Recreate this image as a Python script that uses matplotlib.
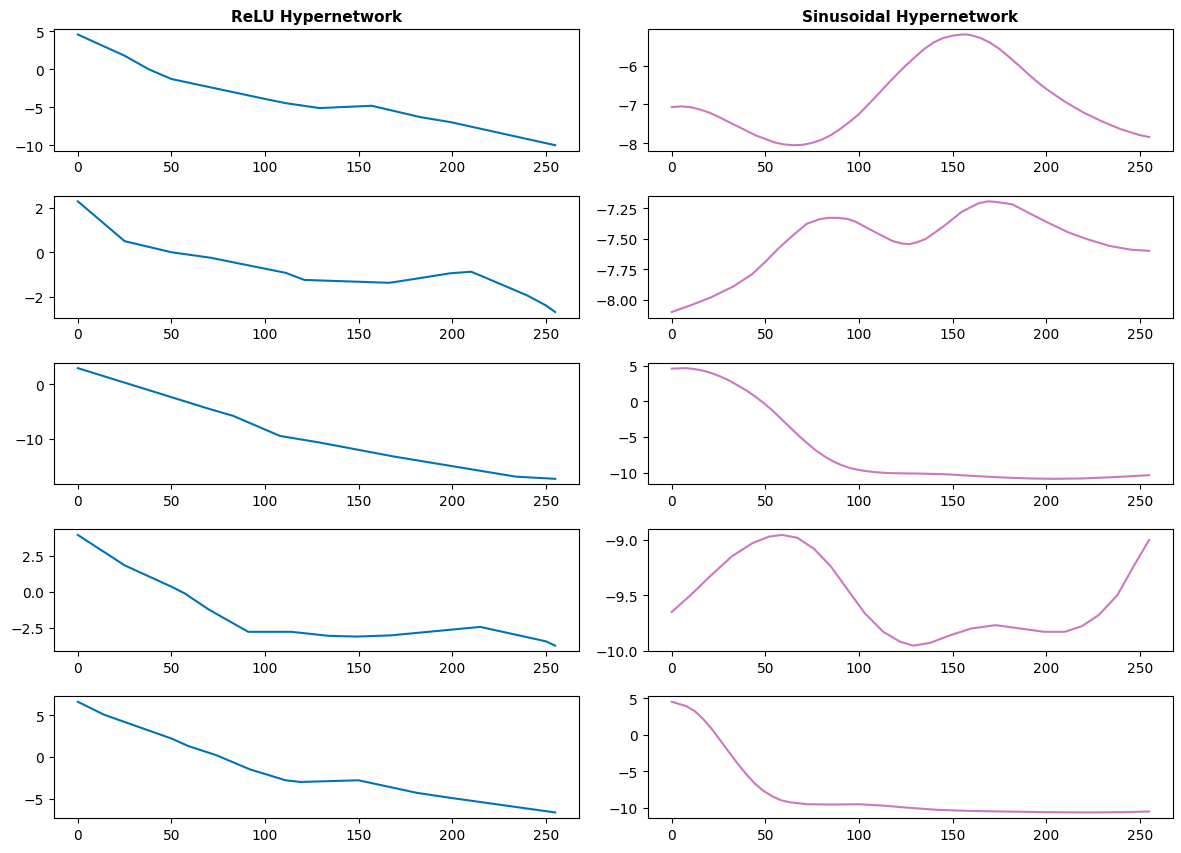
import matplotlib
matplotlib.use("Agg")
import matplotlib.pyplot as plt

# ---- ReLU hypernetwork (piecewise linear breakpoints) ----
relu1_x = [0, 25, 38, 50, 100, 111, 129, 157, 183, 199, 255]
relu1_y = [4.6, 1.8, 0.0, -1.27, -3.9, -4.45, -5.1, -4.8, -6.3, -6.95, -10.0]

relu2_x = [0, 25, 50, 71, 111, 121, 166, 169, 199, 210, 215, 240, 250, 255]
relu2_y = [2.3, 0.5, 0.0, -0.25, -0.93, -1.25, -1.38, -1.35, -0.95, -0.88, -1.05, -1.95, -2.4, -2.7]

relu3_x = [0, 71, 83, 108, 129, 169, 234, 255]
relu3_y = [3.0, -4.6, -5.8, -9.5, -10.7, -13.3, -17.0, -17.4]

relu4_x = [0, 25, 50, 57, 70, 91, 114, 134, 149, 167, 215, 250, 255]
relu4_y = [3.95, 1.84, 0.36, -0.1, -1.23, -2.77, -2.77, -3.05, -3.1, -3.02, -2.43, -3.43, -3.73]

relu5_x = [0, 14, 50, 59, 74, 92, 111, 119, 150, 181, 199, 255]
relu5_y = [6.6, 5.05, 2.2, 1.3, 0.2, -1.5, -2.8, -3.0, -2.8, -4.3, -4.9, -6.65]

# ---- Sinusoidal hypernetwork ----
sin1_x = [0, 5, 10, 15, 20, 25, 30, 35, 40, 45, 50, 55, 60, 65, 70, 75, 80, 85, 90,
          95, 100, 105, 110, 115, 120, 125, 130, 135, 140, 145, 150, 155, 158, 160,
          165, 170, 175, 180, 185, 190, 195, 200, 210, 220, 230, 240, 250, 255]
sin1_y = [-7.07, -7.05, -7.07, -7.13, -7.21, -7.32, -7.44, -7.56, -7.68, -7.80, -7.89,
          -7.98, -8.03, -8.05, -8.04, -7.99, -7.91, -7.79, -7.63, -7.45, -7.25, -7.00,
          -6.75, -6.49, -6.24, -6.00, -5.78, -5.57, -5.40, -5.29, -5.23, -5.20, -5.20,
          -5.22, -5.29, -5.41, -5.57, -5.77, -5.98, -6.20, -6.41, -6.60, -6.93, -7.21,
          -7.44, -7.64, -7.79, -7.84]

sin2_x = [0, 11, 21, 33, 43, 50, 57, 65, 72, 79, 84, 89, 94, 98, 109, 118, 123, 127,
          131, 136, 146, 155, 164, 169, 173, 178, 182, 192, 201, 212, 223, 234, 245, 255]
sin2_y = [-8.10, -8.04, -7.98, -7.89, -7.79, -7.69, -7.58, -7.47, -7.38, -7.34, -7.33,
          -7.33, -7.34, -7.36, -7.45, -7.52, -7.54, -7.545, -7.53, -7.50, -7.39, -7.28,
          -7.21, -7.195, -7.20, -7.21, -7.22, -7.30, -7.37, -7.45, -7.51, -7.56, -7.59,
          -7.60]

sin3_x = [0, 7.7, 12.3, 16.9, 21.5, 26.1, 30.7, 35.3, 39.9, 44.5, 49.1, 53.7, 58.3,
          62.9, 67.5, 72.1, 76.7, 81.3, 85.8, 90.4, 95.0, 99.6, 104.2, 108.8, 113.4,
          118.0, 130.9, 145.6, 160.3, 176.8, 191.5, 204.4, 219.1, 235.7, 255]
sin3_y = [4.58, 4.65, 4.52, 4.28, 3.93, 3.47, 2.91, 2.22, 1.52, 0.68, -0.24, -1.26,
          -2.42, -3.58, -4.74, -5.81, -6.83, -7.67, -8.36, -8.92, -9.34, -9.62, -9.80,
          -9.94, -10.03, -10.08, -10.13, -10.22, -10.45, -10.68, -10.82, -10.87,
          -10.82, -10.64, -10.36]

sin4_x = [0, 10, 21, 32, 43, 52, 59, 67, 76, 85, 94, 103, 113, 122, 129, 138, 149,
          160, 173, 186, 199, 210, 219, 228, 238, 247, 255]
sin4_y = [-9.65, -9.50, -9.32, -9.15, -9.03, -8.97, -8.955, -8.98, -9.08, -9.24,
          -9.45, -9.66, -9.83, -9.92, -9.955, -9.93, -9.86, -9.80, -9.77, -9.80,
          -9.83, -9.83, -9.78, -9.68, -9.50, -9.23, -9.0]

sin5_x = [0, 7.7, 12.3, 16.9, 21.5, 26.1, 30.7, 35.3, 39.9, 44.5, 49.1, 53.7, 58.3,
          62.9, 72.1, 86.8, 99.6, 112.5, 127.2, 141.9, 156.6, 176.8, 200.7, 222.8,
          241.2, 255]
sin5_y = [4.55, 3.95, 3.27, 2.14, 0.77, -0.82, -2.41, -4.0, -5.45, -6.73, -7.73,
          -8.45, -9.0, -9.27, -9.55, -9.59, -9.55, -9.73, -10.05, -10.32, -10.45,
          -10.55, -10.64, -10.68, -10.64, -10.55]

relu_series = [(relu1_x, relu1_y), (relu2_x, relu2_y), (relu3_x, relu3_y),
               (relu4_x, relu4_y), (relu5_x, relu5_y)]
sin_series = [(sin1_x, sin1_y), (sin2_x, sin2_y), (sin3_x, sin3_y),
              (sin4_x, sin4_y), (sin5_x, sin5_y)]
titles = ["ReLU Hypernetwork", "Sinusoidal Hypernetwork"]

blue = "#0173b2"
pink = "#cc78bc"

fig, axes = plt.subplots(5, 2, figsize=(11.81, 8.54), dpi=100)
for i in range(5):
    axes[i, 0].plot(*relu_series[i], color=blue, lw=1.5)
    axes[i, 1].plot(*sin_series[i], color=pink, lw=1.5)
axes[0, 0].set_title(titles[0], fontweight="bold", fontsize=11)
axes[0, 1].set_title(titles[1], fontweight="bold", fontsize=11)
fig.subplots_adjust(left=0.0457, right=0.9932, top=0.9649, bottom=0.041,
                    wspace=0.131, hspace=0.37)
fig.savefig("out.png", dpi=100)
